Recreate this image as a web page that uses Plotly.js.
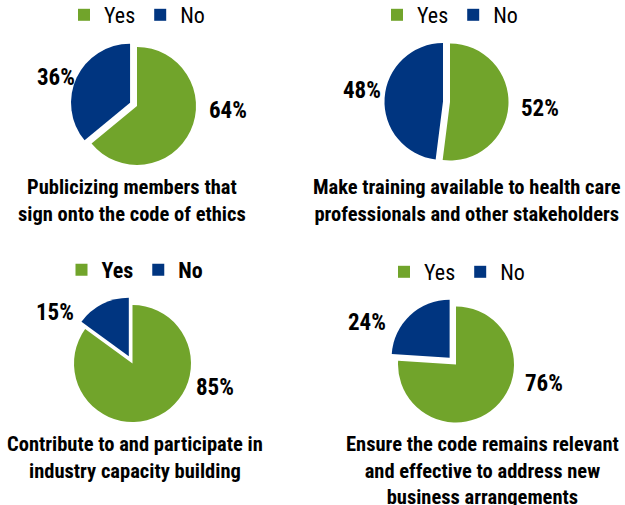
<!DOCTYPE html>
<html><head><meta charset="utf-8">
<script src="https://cdn.plot.ly/plotly-3.0.1.min.js"></script>
<style>html,body{margin:0;padding:0;background:#fff;overflow:hidden}#chart{margin-top:-8px}</style>
</head><body><div id="chart" style="width:625px;height:513px"></div>
<script>
// ---- data ----
const answerLabels = ["Yes", "No"];
const chartTitles = [
  "Publicizing members that<br>sign onto the code of ethics",
  "Make training available to health care<br>professionals and other stakeholders",
  "Contribute to and participate in<br>industry capacity building",
  "Ensure the code remains relevant<br>and effective to address new<br>business arrangements"
];
const yesValues = [64, 52, 85, 76];
const noValues = [36, 48, 15, 24];

// ---- styling / layout (pixel positions measured in the 625x505 view) ----
const OFF = 8;               // the plot is drawn 8px taller and shifted up by 8px
const W = 625, H = 505 + OFF;
const FONT = "'Roboto Condensed', 'Open Sans Condensed', 'DejaVu Sans Condensed', sans-serif";
const sliceColors = ["#71A42B", "#003580"];
const pieCfg = [
  {cx: 137, cy: 106, r: 59, pull: 0.13, legX: 137, legY: 15, legBold: false, titleX: 132, titleY: 173,
   lab: [[228, 110], [56, 77]]},
  {cx: 450, cy: 102, r: 58.5, pull: 0.12, legX: 450, legY: 15, legBold: false, titleX: 467, titleY: 173,
   lab: [[540, 108], [362, 91]]},
  {cx: 132.5, cy: 363.5, r: 58.5, pull: 0.14, legX: 135, legY: 270, legBold: true, titleX: 135, titleY: 430,
   lab: [[215, 387], [55, 312]]},
  {cx: 456, cy: 364.5, r: 58, pull: 0.16, legX: 457, legY: 272, legBold: false, titleX: 482, titleY: 430,
   lab: [[544, 383], [367, 322]]}
];
const py = y => 1 - (y + OFF) / H;   // view pixel -> paper fraction
const px = x => x / W;

const traces = [];
const layout = {
  width: W, height: H,
  margin: {l: 0, r: 0, t: 0, b: 0, autoexpand: false},
  paper_bgcolor: "#fff",
  font: {family: FONT, color: "#000"},
  annotations: []
};

pieCfg.forEach((c, i) => {
  const d = 2 * c.r * (1 + c.pull);
  const legName = i === 0 ? "legend" : "legend" + (i + 1);
  const vals = [yesValues[i], noValues[i]];
  const total = vals[0] + vals[1];
  // zero-width spaces keep each chart's legend entries distinct (pie legends dedupe labels)
  const lbls = answerLabels.map(l => l + "\u200B".repeat(i));
  traces.push({
    type: "pie",
    labels: lbls,
    values: vals,
    sort: false,
    direction: "clockwise",
    rotation: 0,
    pull: [0, c.pull],
    marker: {colors: sliceColors, line: {width: 0}},
    textinfo: "none",
    textposition: "none",
    hoverinfo: "label+percent",
    legend: legName,
    domain: {
      x: [px(c.cx - d / 2), px(c.cx + d / 2)],
      y: [py(c.cy + d / 2), py(c.cy - d / 2)]
    }
  });
  layout[legName] = {
    orientation: "h",
    x: px(c.legX), xanchor: "center",
    y: py(c.legY), yanchor: "middle",
    font: {family: FONT, size: 22, color: "#000", weight: c.legBold ? "bold" : "normal"},
    bgcolor: "rgba(0,0,0,0)",
    itemclick: false, itemdoubleclick: false,
    traceorder: "normal"
  };
  // percentage labels
  vals.forEach((v, k) => {
    layout.annotations.push({
      text: Math.round(v / total * 100) + "%",
      xref: "paper", yref: "paper",
      x: px(c.lab[k][0]), y: py(c.lab[k][1]),
      xanchor: "center", yanchor: "middle",
      showarrow: false,
      font: {family: FONT, size: 23, color: "#000", weight: "bold"}
    });
  });
  layout.annotations.push({
    text: chartTitles[i],
    xref: "paper", yref: "paper",
    x: px(c.titleX), y: py(c.titleY),
    xanchor: "center", yanchor: "top",
    showarrow: false,
    align: "center",
    font: {family: FONT, size: 20.5, color: "#000", weight: "bold"}
  });
});

Plotly.newPlot("chart", traces, layout, {displayModeBar: false, staticPlot: true});
</script>
</body></html>
